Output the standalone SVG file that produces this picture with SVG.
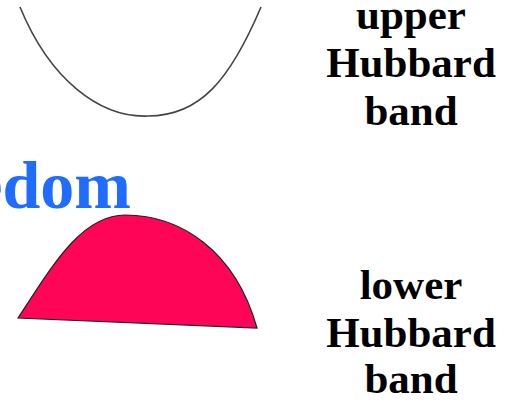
<svg xmlns="http://www.w3.org/2000/svg" width="506" height="407" viewBox="0 0 506 407">
<style>
.lbl{font-family:"Liberation Serif","Times New Roman",serif;font-weight:bold;font-size:43px;fill:#000;text-anchor:middle}
.blue{font-family:"Liberation Serif","Times New Roman",serif;font-weight:bold;font-size:68px;fill:#1f6cff;text-anchor:end}
</style>
<rect width="506" height="407" fill="#fff"/>
<g id="upper-band">
<path d="M20,7 C50,80 100,118 148,116 C200,116 230,80 261,7" fill="none" stroke="#444" stroke-width="1.6"/>
</g>
<g id="lower-band">
<path d="M18,318 C50,270 80,215 125,215 C180,215 235,250 257,328 Z" fill="#fe0558" stroke="#222" stroke-width="1.2"/>
</g>
<g id="upper-label">
<text class="lbl" x="411" y="29">upper</text>
<text class="lbl" x="411" y="77">Hubbard</text>
<text class="lbl" x="411" y="125">band</text>
</g>
<g id="lower-label">
<text class="lbl" x="411" y="299">lower</text>
<text class="lbl" x="411" y="347">Hubbard</text>
<text class="lbl" x="411" y="393">band</text>
</g>
<g id="title">
<text class="blue" x="131" y="208">edom</text>
</g>
<g id="connectors"/>
</svg>
